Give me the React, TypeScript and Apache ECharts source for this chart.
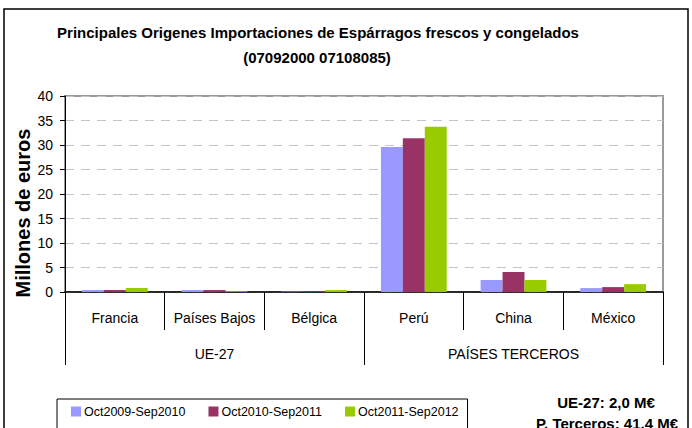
import React, { useEffect, useRef } from "react";
import * as echarts from "echarts";

const countries = ["Francia", "Países Bajos", "Bélgica", "Perú", "China", "México"];
const groups = ["UE-27", "PAÍSES TERCEROS"];
const seriesNames = ["Oct2009-Sep2010", "Oct2010-Sep2011", "Oct2011-Sep2012"];
const values2010 = [0.4, 0.4, 0.1, 29.6, 2.45, 0.8];
const values2011 = [0.4, 0.4, 0.15, 31.4, 4.1, 1.0];
const values2012 = [0.8, 0.15, 0.4, 33.7, 2.45, 1.6];
const colors = ["#9999FF", "#993366", "#99CC00"];
const titleLines = [
  "Principales Origenes Importaciones de Espárragos frescos y congelados",
  "(07092000 07108085)",
];
const yAxisTitle = "Millones de euros";
const totals = ["UE-27: 2,0 M€", "P. Terceros: 41,4 M€"];

const FONT = "'Liberation Sans', Arial, sans-serif";

export default function App() {
  const ref = useRef<HTMLDivElement>(null);
  useEffect(() => {
    if (!ref.current) return;
    const chart = echarts.init(ref.current, null, { renderer: "svg" });
    const data = [values2010, values2011, values2012];
    const boldText = (text: string, x: number, y: number, size: number, extra: any = {}) => ({
      type: "text",
      x,
      y,
      ...extra,
      style: {
        text,
        fontFamily: FONT,
        fontWeight: "bold",
        fontSize: size,
        fill: "#000",
        textAlign: "center",
        textVerticalAlign: "middle",
      },
    });
    chart.setOption({
      animation: false,
      backgroundColor: "#ffffff",
      textStyle: { fontFamily: FONT },
      grid: {
        left: 65,
        right: 29,
        top: 96,
        bottom: 136,
        show: true,
        borderColor: "#9a9a9a",
        borderWidth: 2,
        backgroundColor: "transparent",
      },
      legend: {
        left: 57,
        top: 399,
        padding: [6, 9, 30, 14],
        borderColor: "#000",
        borderWidth: 1,
        itemWidth: 10,
        itemHeight: 10,
        itemGap: 23,
        icon: "rect",
        textStyle: { fontFamily: FONT, fontSize: 12.5, color: "#000", padding: [0, 0, 0, -2] },
        data: seriesNames,
      },
      xAxis: [
        {
          type: "category",
          data: countries,
          position: "bottom",
          axisLine: { show: true, lineStyle: { color: "#000", width: 1.5 } },
          axisTick: { show: true, length: 38, alignWithLabel: false, interval: 0, lineStyle: { color: "#000", width: 1 } },
          axisLabel: { interval: 0, margin: 19, fontSize: 14, color: "#000", fontFamily: FONT },
          splitLine: { show: false },
        },
        {
          type: "category",
          data: groups,
          position: "bottom",
          offset: 38,
          axisLine: { show: false },
          axisTick: { show: true, length: 35, interval: 0, lineStyle: { color: "#000", width: 1 } },
          axisLabel: { interval: 0, margin: 17, fontSize: 14, color: "#000", fontFamily: FONT },
          splitLine: { show: false },
        },
      ],
      yAxis: {
        type: "value",
        min: 0,
        max: 40,
        interval: 5,
        axisLine: { show: true, lineStyle: { color: "#000", width: 1 } },
        axisTick: { show: true, length: 5, inside: false, lineStyle: { color: "#000" } },
        axisLabel: { fontSize: 14, color: "#000", margin: 12, fontFamily: FONT },
        splitLine: { show: true, lineStyle: { color: "#c4c4c4", type: [9, 7], width: 1 } },
      },
      series: seriesNames.map((name, i) => ({
        name,
        type: "bar",
        data: data[i],
        xAxisIndex: 0,
        barGap: "0%",
        barCategoryGap: "34%",
        itemStyle: { color: colors[i] },
      })),
      graphic: [
        {
          type: "rect",
          shape: { x: 4, y: 9, width: 684, height: 440 },
          style: { fill: "none", stroke: "#000", lineWidth: 1.5 },
          silent: true,
          z: 100,
        },
        boldText(titleLines[0], 318, 32, 15),
        boldText(titleLines[1], 317, 57, 15),
        boldText(yAxisTitle, 23, 213, 20, { rotation: Math.PI / 2 }),
        boldText(totals[0], 606, 402, 15),
        boldText(totals[1], 607, 423, 15),
      ],
    });
    return () => chart.dispose();
  }, []);
  return (
    <div
      ref={ref}
      style={{ position: "absolute", left: 0, top: 0, width: 692, height: 428 }}
    />
  );
}
